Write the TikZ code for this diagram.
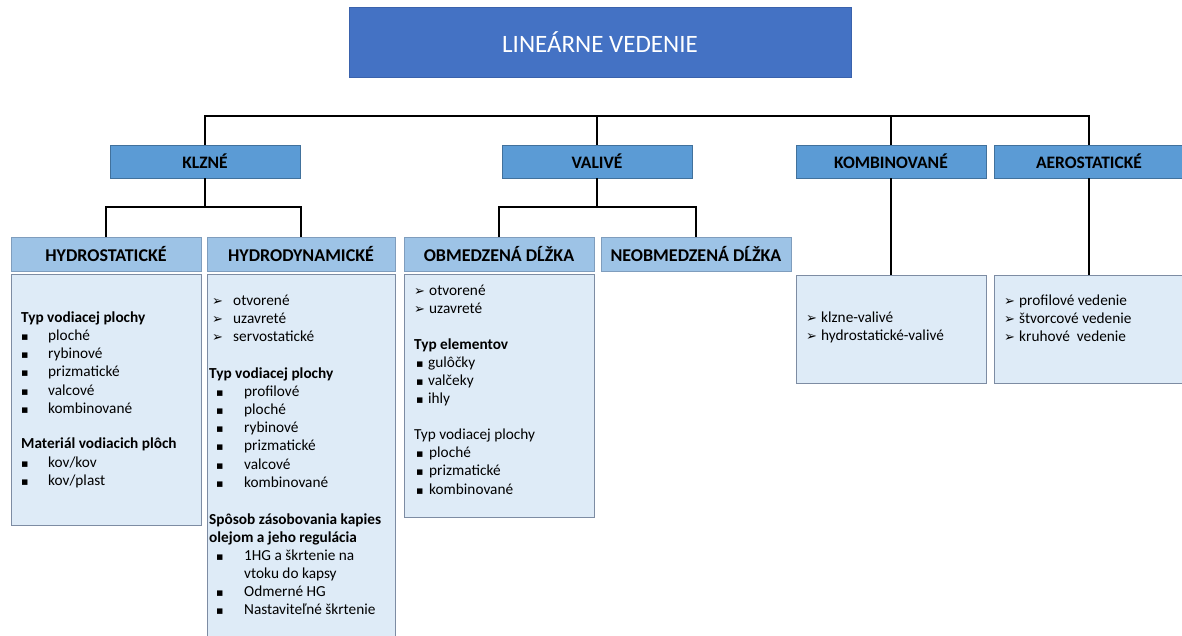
\documentclass[tikz,border=0pt]{standalone}
\usepackage{fontspec}
\setmainfont{Carlito}
\newfontfamily\symfont{DejaVu Sans}
\definecolor{titlefill}{HTML}{4472C4}
\definecolor{titledraw}{HTML}{3A62AC}
\definecolor{lvltwofill}{HTML}{5B9BD5}
\definecolor{lvltwodraw}{HTML}{41719C}
\definecolor{lvlthreefill}{HTML}{9DC3E6}
\definecolor{lvlthreedraw}{HTML}{7F9DBD}
\definecolor{contfill}{HTML}{DEEBF7}
\definecolor{contdraw}{HTML}{7D8CA3}
\newcommand{\arr}{{\symfont\fontsize{13}{14}\selectfont ➢}}
\newcommand{\sqb}{{\symfont\fontsize{11}{12}\selectfont ▪}}
\tikzset{
  titlebox/.style={fill=titlefill, draw=titledraw, line width=0.8pt, text=white, inner sep=0pt,
    minimum width=502pt, minimum height=70pt, font=\fontsize{25}{29}\selectfont},
  twobox/.style={fill=lvltwofill, draw=lvltwodraw, line width=0.8pt, inner sep=0pt,
    minimum width=190pt, minimum height=33pt, font=\bfseries\fontsize{17.5}{20}\selectfont},
  threebox/.style={fill=lvlthreefill, draw=lvlthreedraw, line width=0.8pt, inner sep=0pt,
    minimum height=34pt, font=\bfseries\fontsize{18}{21}\selectfont},
  contbox/.style={fill=contfill, draw=contdraw, line width=0.8pt, inner sep=0pt},
  conn/.style={draw=black, line width=1.8pt, line join=miter},
  ln/.style={anchor=mid west, inner sep=0pt, font=\fontsize{15.3}{18}\selectfont},
  lnb/.style={ln, font=\bfseries\fontsize{15.3}{18}\selectfont},
}
\begin{document}
\begin{tikzpicture}[x=1pt,y=-1pt]
\useasboundingbox (0,0) rectangle (1182,636);
\fill[white] (0,0) rectangle (1182,636);

% title
\node[titlebox] (title) at (600,42) {LINEÁRNE VEDENIE};

% level 2
\node[twobox] (klzne) at (205,161.5) {KLZNÉ};
\node[twobox] (valive) at (597,161.5) {VALIVÉ};
\node[twobox] (kombi) at (891,161.5) {KOMBINOVANÉ};
\node[twobox] (aero) at (1089,161.5) {AEROSTATICKÉ};

% level 3
\node[threebox, minimum width=190pt] (hs) at (106,254.5) {HYDROSTATICKÉ};
\node[threebox, minimum width=188pt] (hd) at (301,254.5) {HYDRODYNAMICKÉ};
\node[threebox, minimum width=190pt] (ob) at (499,254.5) {OBMEDZENÁ DĹŽKA};
\node[threebox, minimum width=190pt] (neob) at (696,254.5) {NEOBMEDZENÁ DĹŽKA};

% content boxes
\node[contbox, minimum width=190pt, minimum height=251pt] (hsc) at (106,399.5) {};
\node[contbox, minimum width=188pt, minimum height=380pt] (hdc) at (301,464) {};
\node[contbox, minimum width=190pt, minimum height=243pt] (obc) at (499,395.5) {};
\node[contbox, minimum width=190pt, minimum height=108pt] (kombic) at (891,329) {};
\node[contbox, minimum width=200pt, minimum height=108pt] (aeroc) at (1094,329) {};

% connectors
\coordinate (bus) at (0,116);
\coordinate (kbus) at (0,207);
\draw[conn] (klzne.north) -- (klzne.north |- bus) -- (aero.north |- bus) -- (aero.north);
\draw[conn] (valive.north) -- (valive.north |- bus);
\draw[conn] (kombi.north) -- (kombi.north |- bus);
\draw[conn] (klzne.south) -- (klzne.south |- kbus);
\draw[conn] (hs.north) -- (hs.north |- kbus) -- (hd.north |- kbus) -- (hd.north);
\draw[conn] (valive.south) -- (valive.south |- kbus);
\draw[conn] (ob.north) -- (ob.north |- kbus) -- (neob.north |- kbus) -- (neob.north);
\draw[conn] (kombi.south) -- (kombi.south |- kombic.north);
\draw[conn] (aero.south) -- (aero.south |- aeroc.north);

% HYDROSTATICKÉ content
\node[lnb] (hs1) at (21,320) {Typ vodiacej plochy};
\node[ln] (hs2) at (21,338) {\makebox[27pt][l]{\sqb}ploché};
\node[ln] (hs3) at (21,356) {\makebox[27pt][l]{\sqb}rybinové};
\node[ln] (hs4) at (21,374) {\makebox[27pt][l]{\sqb}prizmatické};
\node[ln] (hs5) at (21,393) {\makebox[27pt][l]{\sqb}valcové};
\node[ln] (hs6) at (21,411) {\makebox[27pt][l]{\sqb}kombinované};
\node[lnb] (hs7) at (21,446) {Materiál vodiacich plôch};
\node[ln] (hs8) at (21,465) {\makebox[27pt][l]{\sqb}kov/kov};
\node[ln] (hs9) at (21,483) {\makebox[27pt][l]{\sqb}kov/plast};

% HYDRODYNAMICKÉ content
\node[ln] (hd1) at (212,303) {\makebox[21pt][l]{\arr}otvorené};
\node[ln] (hd2) at (212,321) {\makebox[21pt][l]{\arr}uzavreté};
\node[ln] (hd3) at (212,339) {\makebox[21pt][l]{\arr}servostatické};
\node[lnb] (hd4) at (209,376) {Typ vodiacej plochy};
\node[ln] (hd5) at (216,394) {\makebox[28pt][l]{\sqb}profilové};
\node[ln] (hd6) at (216,412) {\makebox[28pt][l]{\sqb}ploché};
\node[ln] (hd7) at (216,430) {\makebox[28pt][l]{\sqb}rybinové};
\node[ln] (hd8) at (216,448) {\makebox[28pt][l]{\sqb}prizmatické};
\node[ln] (hd9) at (216,467) {\makebox[28pt][l]{\sqb}valcové};
\node[ln] (hd10) at (216,485) {\makebox[28pt][l]{\sqb}kombinované};
\node[lnb] (hd11) at (209,522) {Spôsob zásobovania kapies};
\node[lnb] (hd12) at (209,540) {olejom a jeho regulácia};
\node[ln] (hd13) at (216,558) {\makebox[28pt][l]{\sqb}1HG a škrtenie na};
\node[ln] (hd14) at (244,576) {vtoku do kapsy};
\node[ln] (hd15) at (216,594) {\makebox[28pt][l]{\sqb}Odmerné HG};
\node[ln] (hd16) at (216,612) {\makebox[28pt][l]{\sqb}Nastaviteľné škrtenie};

% OBMEDZENÁ DĹŽKA content
\node[ln] (ob1) at (414,293) {\makebox[15pt][l]{\arr}otvorené};
\node[ln] (ob2) at (414,311) {\makebox[15pt][l]{\arr}uzavreté};
\node[lnb] (ob3) at (414,347) {Typ elementov};
\node[ln] (ob4) at (416,365) {\makebox[12pt][l]{\sqb}gulôčky};
\node[ln] (ob5) at (416,383) {\makebox[12pt][l]{\sqb}valčeky};
\node[ln] (ob6) at (416,401) {\makebox[12pt][l]{\sqb}ihly};
\node[ln] (ob7) at (414,437) {Typ vodiacej plochy};
\node[ln] (ob8) at (416,455) {\makebox[13pt][l]{\sqb}ploché};
\node[ln] (ob9) at (416,473) {\makebox[13pt][l]{\sqb}prizmatické};
\node[ln] (ob10) at (416,492) {\makebox[13pt][l]{\sqb}kombinované};

% KOMBINOVANÉ content
\node[ln] (kc1) at (806,320) {\makebox[15pt][l]{\arr}klzne-valivé};
\node[ln] (kc2) at (806,338) {\makebox[15pt][l]{\arr}hydrostatické-valivé};

% AEROSTATICKÉ content
\node[ln] (ac1) at (1004,303) {\makebox[15pt][l]{\arr}profilové vedenie};
\node[ln] (ac2) at (1004,321) {\makebox[15pt][l]{\arr}štvorcové vedenie};
\node[ln] (ac3) at (1004,339) {\makebox[15pt][l]{\arr}kruhové\ \ vedenie};
\end{tikzpicture}
\end{document}
